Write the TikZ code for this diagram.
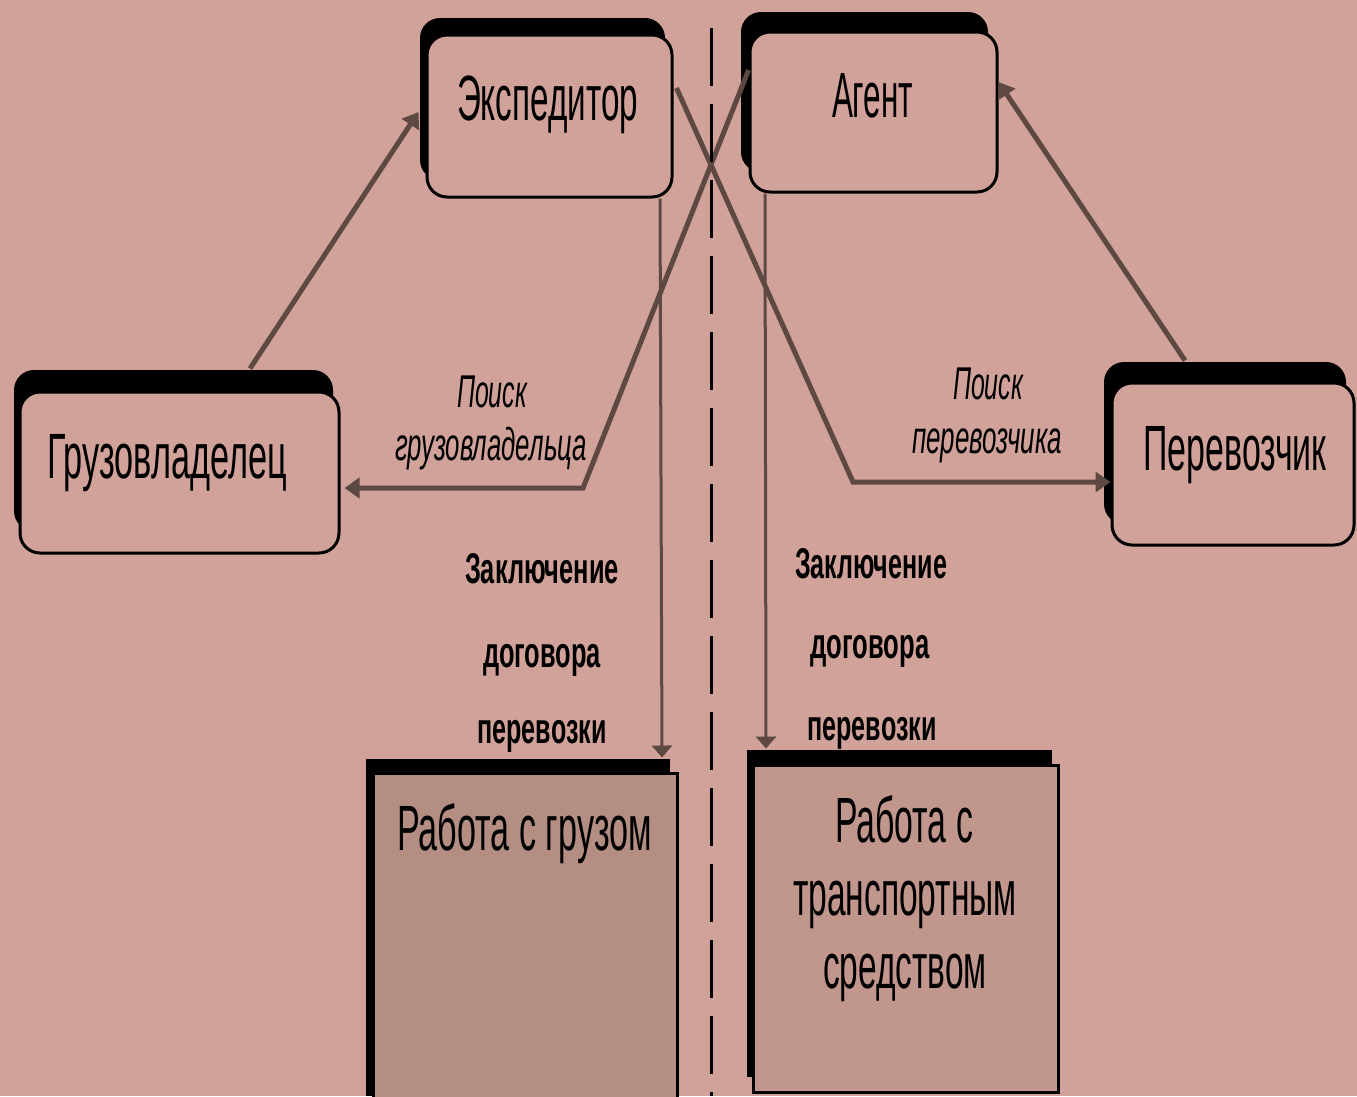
\documentclass[tikz,border=0pt]{standalone}
\usepackage{fontspec}
\setmainfont{Liberation Sans}
\usepackage{graphicx}
\usetikzlibrary{shadows,calc,arrows.meta}
\definecolor{bgc}{RGB}{209,162,153}
\definecolor{arrc}{RGB}{94,72,66}
\definecolor{boxg}{RGB}{180,142,130}
\definecolor{boxt}{RGB}{192,150,141}
\newcommand{\fitx}[2]{\resizebox{#1pt}{\height}{#2}}
\tikzset{
  box/.style={draw=black, line width=3pt, fill=bgc, rounded corners=20pt, inner sep=0pt},
  sqbox/.style={draw=black, line width=3pt, inner sep=0pt},
  big/.style={anchor=base, inner sep=0pt, font=\fontsize{64}{64}\selectfont},
  ital/.style={anchor=base, inner sep=0pt, font=\fontsize{46}{46}\selectfont\itshape},
  bold/.style={anchor=base, inner sep=0pt, font=\fontsize{43}{43}\selectfont\bfseries},
  arr/.style={draw=arrc, line width=5pt, -{Triangle[length=15pt,width=20pt]}},
  varr/.style={draw=arrc, line width=3pt, -{Triangle[length=12pt,width=20pt]}},
  sep/.style={draw=black, line width=3pt, dash pattern=on 58pt off 18pt}
}
\begin{document}
\begin{tikzpicture}[x=1pt,y=-1pt]
\useasboundingbox (0,0) rectangle (1357,1096);
\fill[bgc] (0,0) rectangle (1357,1096);

% boxes
\node[box, minimum width=245pt, minimum height=162pt,
  drop shadow={shadow xshift=-7pt, shadow yshift=17pt, fill=black, opacity=1}] (expd) at (549.5,116) {};
\node[box, minimum width=247pt, minimum height=160pt,
  drop shadow={shadow xshift=-9pt, shadow yshift=20pt, fill=black, opacity=1}] (agent) at (873.5,112) {};
\node[box, minimum width=319pt, minimum height=161pt,
  drop shadow={shadow xshift=-6pt, shadow yshift=22pt, fill=black, opacity=1}] (gruz) at (179.5,472.5) {};
\node[box, minimum width=242pt, minimum height=162pt,
  drop shadow={shadow xshift=-8pt, shadow yshift=21pt, fill=black, opacity=1}] (perev) at (1233,464) {};
\node[sqbox, fill=boxg, minimum width=304pt, minimum height=337pt,
  drop shadow={shadow xshift=-7pt, shadow yshift=14pt, fill=black, opacity=1}] (rabg) at (525,941.5) {};
\node[sqbox, fill=boxt, minimum width=305pt, minimum height=327pt,
  drop shadow={shadow xshift=-6pt, shadow yshift=15pt, fill=black, opacity=1}] (rabt) at (905.5,928.5) {};

% box texts
\node[big] (texpd) at (547.5,120) {\fitx{181}{Экспедитор}};
\node[big] (tagent) at (872.5,117) {\fitx{81}{Агент}};
\node[big] (tgruz) at (167,478) {\fitx{240}{Грузовладелец}};
\node[big] (tperev) at (1235,470) {\fitx{183}{Перевозчик}};
\node[big] (trabg) at (524.5,850) {\fitx{255}{Работа с грузом}};
\node[big] (trabt1) at (904,842) {\fitx{138}{Работа с}};
\node[big] (trabt2) at (905,915) {\fitx{224}{транспортным}};
\node[big] (trabt3) at (905,988) {\fitx{164}{средством}};

% italic labels
\node[ital] (lp1) at (492,407) {\fitx{70}{Поиск}};
\node[ital] (lp2) at (491,460) {\fitx{192}{грузовладельца}};
\node[ital] (rp1) at (988,399) {\fitx{70}{Поиск}};
\node[ital] (rp2) at (987,453) {\fitx{150}{перевозчика}};

% bold labels
\node[bold] (lz1) at (542,583) {\fitx{154}{Заключение}};
\node[bold] (lz2) at (542,667) {\fitx{118}{договора}};
\node[bold] (lz3) at (542,743) {\fitx{129}{перевозки}};
\node[bold] (rz1) at (871,578) {\fitx{152}{Заключение}};
\node[bold] (rz2) at (870,658) {\fitx{119}{договора}};
\node[bold] (rz3) at (872,740) {\fitx{129}{перевозки}};

% connectors
\coordinate (c1) at (583,488);
\coordinate (c2) at (853,482);
\draw[arr] ($(gruz.north)+(70.5,-22)$) -- ($(expd.west)+(-7,-4)$);
\draw[arr] ($(perev.north)+(-48,-21)$) -- ($(agent.east)+(0,-30)$);
\draw[arr] ($(agent.west)+(0,-42)$) -- (c1) -- ($(gruz.east)+(4,15.5)$);
\draw[arr] ($(expd.east)+(3,-28)$) -- (c2) -- (perev.west |- c2);
\draw[varr] ($(expd.south)+(110.5,0)$) -- ($(rabg.north)+(137,-14)$);
\draw[varr] ($(agent.south)+(-108.5,0)$) -- ($(rabt.north)+(-139.5,-15)$);

% separator
\draw[sep] (711,28) -- (711,1096);
\end{tikzpicture}
\end{document}
